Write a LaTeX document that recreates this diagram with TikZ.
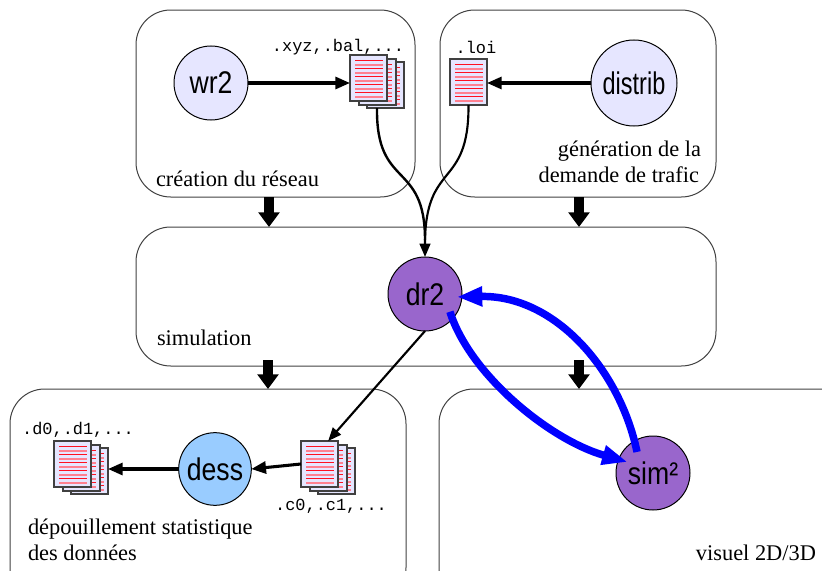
\documentclass[tikz,border=0pt]{standalone}
\usepackage{fontspec}
\setmainfont{Liberation Serif}
\setmonofont{Liberation Mono}
\newfontfamily\helv[FakeStretch=0.85]{Liberation Sans}
\newfontfamily\helvn[FakeStretch=0.75]{Liberation Sans}
\usetikzlibrary{arrows.meta,calc}
\definecolor{lav}{HTML}{E6E6FF}
\definecolor{purp}{HTML}{9966CC}
\definecolor{sky}{HTML}{99CCFF}
\definecolor{redrule}{RGB}{255,16,32}
\definecolor{pinkrule}{RGB}{255,128,144}
\definecolor{edge}{HTML}{404040}
\tikzset{
  zone/.style={draw=edge,line width=.75pt,rounded corners=26pt,fill=none,inner sep=0,outer sep=0,anchor=north west},
  tool/.style={circle,draw=black,line width=.75pt,inner sep=0,outer sep=0,font=\helv\fontsize{23.5}{26}\selectfont},
  page/.style={draw=edge,line width=1pt,fill=lav,inner sep=0,outer sep=0,minimum width=27.75pt,minimum height=34.5pt},
  lbl/.style={font=\fontsize{16.8}{20}\selectfont,inner sep=0,outer sep=0},
  ext/.style={font=\ttfamily\fontsize{12.7}{14}\selectfont,inner sep=0,outer sep=0},
  flow/.style={draw=black,line width=2.3pt,-{Triangle[length=11pt,width=9pt]}},
  thin flow/.style={draw=black,line width=1.6pt,-{Triangle[length=10pt,width=8pt]}},
  stage/.style={draw=black,line width=8pt,-{Triangle[length=11pt,width=15.5pt]}},
  blue flow/.style={draw=blue,line width=5.6pt,-{Triangle[length=19pt,width=14pt]}},
}
\newcommand\docpage[3]{%
  \fill[gray] (#2+1,#3+1) rectangle (#2+38,#3+47);
  \node[page] (#1) at (#2+18.5,#3+23) {};
  \fill[redrule] (#2+4.5,#3+5) rectangle (#2+32.5,#3+6);
  \fill[pinkrule] (#2+4.5,#3+9) rectangle (#2+32.5,#3+10.5);
  \fill[redrule] (#2+4.5,#3+13) rectangle (#2+32.5,#3+14);
  \fill[pinkrule] (#2+4.5,#3+17) rectangle (#2+32.5,#3+18.5);
  \fill[redrule] (#2+4.5,#3+21) rectangle (#2+32.5,#3+22);
  \fill[pinkrule] (#2+4.5,#3+25) rectangle (#2+32.5,#3+26.5);
  \fill[redrule] (#2+4.5,#3+29) rectangle (#2+32.5,#3+30);
  \fill[pinkrule] (#2+4.5,#3+33) rectangle (#2+32.5,#3+34.5);
  \fill[redrule] (#2+4.5,#3+37) rectangle (#2+32.5,#3+38);
  \fill[pinkrule] (#2+4.5,#3+41) rectangle (#2+32.5,#3+42.5);
}
\newcommand\docstack[3]{%
  \docpage{#1b}{#2+17}{#3+7}
  \docpage{#1m}{#2+9}{#3+4}
  \docpage{#1f}{#2}{#3}
}
\begin{document}
\begin{tikzpicture}[x=.75pt,y=-.75pt]
\useasboundingbox (0,0) rectangle (822,571);
\clip (0,0) rectangle (822,571);
% zones
\node[zone,minimum width=209.25pt,minimum height=140.25pt] (net) at (136,10) {};
\node[zone,minimum width=207pt,minimum height=140.25pt] (dem) at (440,10) {};
\node[zone,minimum width=435pt,minimum height=104.25pt] (simz) at (136,227) {};
\node[zone,minimum width=297pt,minimum height=160pt] (stat) at (10,389) {};
\node[zone,minimum width=330pt,minimum height=160pt] (vis) at (439,389) {};
% labels
\node[lbl,anchor=base west] (l1) at (156,186) {création du réseau};
\node[lbl,anchor=base east] (l2) at (701,156) {génération de la};
\node[lbl,anchor=base east] (l3) at (699,182) {demande de trafic};
\node[lbl,anchor=base west] (l4) at (157,345) {simulation};
\node[lbl,anchor=base west] (l5) at (28,534) {dépouillement statistique};
\node[lbl,anchor=base west] (l6) at (28,560) {des données};
\node[lbl,anchor=base east] (l7) at (816,560) {visuel 2D/3D};
% stage arrows
\coordinate (s1) at (269,197); \coordinate (s2) at (579,197);
\coordinate (s3) at (268,360); \coordinate (s4) at (579,360);
\draw[stage] (s1) -- (s1 |- simz.north);
\draw[stage] (s2) -- (s2 |- simz.north);
\draw[stage] (s3) -- (s3 |- stat.north);
\draw[stage] (s4) -- (s4 |- vis.north);
% documents
\docstack{xyz}{350}{55}
\docpage{loi}{450}{59}
\docstack{dz}{54}{441}
\docstack{cz}{301}{441}
\node[ext] (e1) at (338,47) {.xyz,.bal,...};
\node[ext] (e2) at (476,47) {.loi};
\node[ext] (e3) at (78,430) {.d0,.d1,...};
\node[ext] (e4) at (331,506) {.c0,.c1,...};
% tools
\node[tool,fill=lav,minimum size=55.5pt] (wr) at (211,83) {wr2};
\node[tool,fill=lav,minimum size=64.5pt,font=\helvn\fontsize{23.5}{26}\selectfont] (distrib) at (634,83) {distrib};
\node[tool,fill=purp,minimum size=55.5pt] (dr) at (425,294) {dr2};
\node[tool,fill=sky,minimum size=54.5pt] (dess) at (215,469) {dess};
\node[tool,fill=purp,minimum size=55.5pt] (sim) at (653,473) {sim²};
% connectors
\draw[flow] (wr.east) -- (wr.east -| xyzf.west);
\draw[flow] (distrib.west) -- (distrib.west -| loi.east);
\draw[flow] (dess.west) -- (dess.west -| dzb.east);
\draw[flow] (czf.west) -- (dess.east);
\draw[thin flow] (dr.south) -- ([xshift=6.5pt]czf.north);
\draw[draw=black,line width=1.8pt] ([xshift=7.5pt]xyzb.south west) .. controls (376,190) and (425,160) .. (425,240);
\draw[thin flow] (loi.south) .. controls (469,190) and (425,160) .. (dr.north);
\draw[blue flow] ([shift={(-3.75pt,3pt)}]dr.-36) .. controls (470,375) and (550,440) .. ([shift={(8pt,2.5pt)}]sim.168);
\draw[blue flow] ([shift={(-4.8pt,-11pt)}]sim.105) .. controls (620,370) and (555,295) .. ([shift={(-2.8pt,5pt)}]dr.-15);
\end{tikzpicture}
\end{document}
